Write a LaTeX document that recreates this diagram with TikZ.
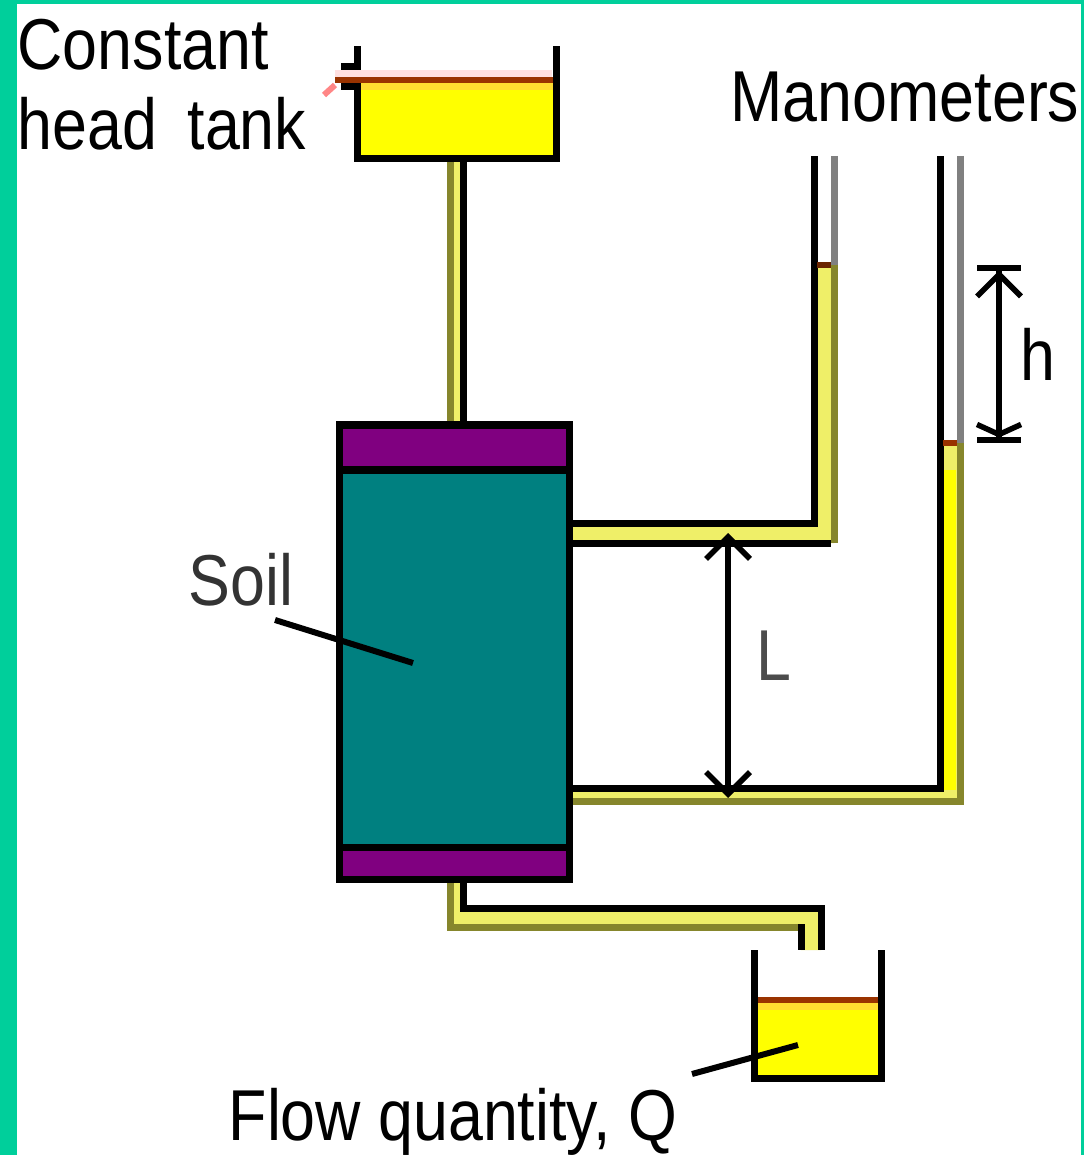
\documentclass[tikz,border=0pt]{standalone}
\usepackage{fontspec}
\setmainfont[FakeStretch=0.87]{Liberation Sans}
\usetikzlibrary{arrows.meta}
\definecolor{frame}{HTML}{00CF9B}
\definecolor{fluid}{HTML}{FFFF00}
\definecolor{fluidtop}{HTML}{FFDD30}
\definecolor{pipefluid}{HTML}{EFEF68}
\definecolor{pipeedge}{HTML}{86862C}
\definecolor{level}{HTML}{993300}
\definecolor{soil}{HTML}{008080}
\definecolor{filter}{HTML}{800080}

\begin{document}
\begin{tikzpicture}[x=0.01cm,y=-0.01cm,
    wall/.style={line width=.07cm,black},
    edgegrey/.style={line width=.07cm,gray},
    edgeolive/.style={line width=.07cm,pipeedge},
    waterline/.style={line width=.055cm,level},
    leader/.style={line width=.06cm,black},
    lbl/.style={anchor=base west,inner sep=0pt,font=\fontsize{20.5pt}{24pt}\selectfont},
    dim/.style={line width=.055cm,black}]
  \useasboundingbox (0,0) rectangle (1084,1155);
  \fill[white] (0,0) rectangle (1084,1155);
  \fill[frame] (0,0) rectangle (17,1155);
  \fill[frame] (0,0) rectangle (1084,4);
  \fill[frame] (1081,0) rectangle (1084,1155);

  % feed tank and pipe
  \fill[pipefluid] (450,160) rectangle (463,425);
  \fill[fluid] (357,80) rectangle (556,160);
  \fill[fluidtop] (357,80) rectangle (556,90);
  \fill[red!12] (335,70) rectangle (552,77);
  \draw[edgeolive] (450,160) -- (450,425);
  \draw[wall] (463,160) -- (463,425);
  \draw[waterline] (335,80) -- (553,80);
  \draw[pink!70!red,line width=.06cm] (324,95) -- (335,85);
  \draw[wall] (341,67) -- (357,67) -- (357,46);
  \draw[wall] (341,87) -- (357,87) -- (357,159) -- (556,159) -- (556,46);

  % first manometer
  \fill[pipefluid] (572,523) -- (814,523) -- (814,265) -- (834,265) -- (834,543) -- (572,543) -- cycle;
  \draw[edgegrey] (834,156) -- (834,265);
  \draw[edgeolive] (834,265) -- (834,543);
  \draw[wall] (572,543) -- (831,543);
  \draw[wall] (572,523) -- (814,523) -- (814,156);
  \draw[line width=.055cm,level!70!black] (817,265) -- (831,265);

  % second manometer
  \fill[pipefluid] (572,788) -- (940,788) -- (940,443) -- (960,443) -- (960,801) -- (572,801) -- cycle;
  \fill[fluid] (943,470) rectangle (956,790);
  \draw[edgegrey] (960,156) -- (960,443);
  \draw[edgeolive] (960,443) -- (960,801) -- (572,801);
  \draw[wall] (572,788) -- (940,788) -- (940,156);
  \draw[waterline] (943,443) -- (957,443);

  % outlet pipe
  \fill[pipefluid] (450,882) -- (463,882) -- (463,908) -- (821,908) -- (821,950) -- (801,950) -- (801,927) -- (450,927) -- cycle;
  \draw[edgeolive] (450,882) -- (450,927) -- (798,927);
  \draw[wall] (463,882) -- (463,908) -- (821,908) -- (821,950);
  \draw[wall] (801,924) -- (801,950);

  % soil column
  \fill[soil] (339,470) rectangle (569,847);
  \fill[filter] (339,425) rectangle (569,470);
  \fill[filter] (339,847) rectangle (569,879);
  \draw[wall] (339,425) rectangle (569,879);
  \draw[wall] (339,470) -- (569,470);
  \draw[wall] (339,847) -- (569,847);

  % collecting tank
  \fill[fluid] (754,1000) rectangle (881,1079);
  \fill[fluidtop] (754,1000) rectangle (881,1010);
  \draw[waterline] (757,1000) -- (878,1000);
  \draw[wall] (754,950) -- (754,1078) -- (881,1078) -- (881,950);

  \draw (275,620) coordinate (soil1);
  \draw (413,663) coordinate (soil2);
  \draw (692,1074) coordinate (flow1);
  \draw (798,1045) coordinate (flow2);
  \draw (728,533) coordinate (lenA);
  \draw (728,798) coordinate (lenB);
  \draw (999,265) coordinate (headA);
  \draw (999,443) coordinate (headB);

  \path[leader] (soil1) edge (soil2);
  \path[leader] (flow1) edge (flow2);
  \path[dim,{Straight Barb[length=.22cm,width=.44cm]}-{Straight Barb[length=.22cm,width=.44cm]}] (lenA) edge (lenB);
  \path[dim,{Bar[width=.44cm]Straight Barb[length=.22cm,width=.44cm]}-{Straight Barb[length=.1cm,width=.44cm]Bar[width=.44cm]}] (headA) edge (headB);

  \draw (17,70) node[lbl] (constant) {Constant};
  \draw (17,150) node[lbl] (headtank) {head\hspace{.13cm} tank};
  \draw (730,122) node[lbl] (manometers) {Manometers};
  \draw (188,605) node[lbl,text=black!80] (soillabel) {Soil};
  \draw (756,680) node[lbl,text=black!70] (lenlabel) {L};
  \draw (1020,380) node[lbl] (headlabel) {h};
  \draw (228,1140) node[lbl] (flowlabel) {Flow quantity, Q};
\end{tikzpicture}
\end{document}
